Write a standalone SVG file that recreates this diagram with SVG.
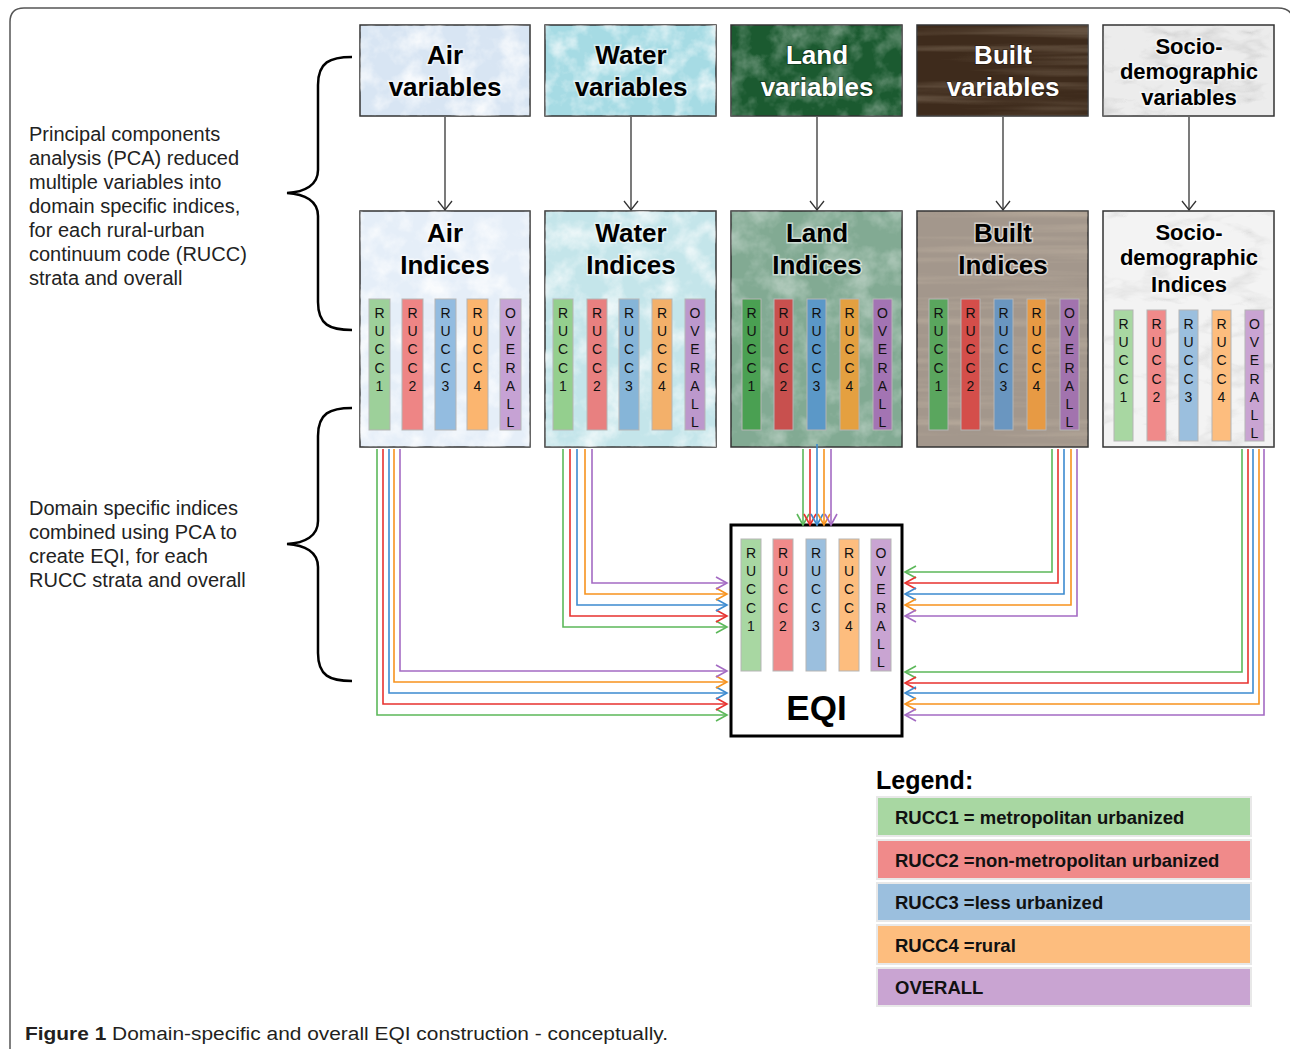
<svg xmlns="http://www.w3.org/2000/svg" width="1290" height="1049" viewBox="0 0 1290 1049">
<style>
.frame{fill:none;stroke:#555;stroke-width:1.5}
.box{stroke:#333;stroke-width:1.5}
.t{font-family:"Liberation Sans",Arial,sans-serif;font-weight:bold;font-size:26px;text-anchor:middle}
.ts{font-size:22px}
.tk{fill:#000;stroke:#fff;stroke-width:3;stroke-opacity:.55;paint-order:stroke}
.tw{fill:#fff;stroke:#000;stroke-width:2;stroke-opacity:.3;paint-order:stroke}
.bar{stroke:#b5b5b5;stroke-width:1}
.v{font-family:"Liberation Sans",Arial,sans-serif;font-size:14px;fill:#111;text-anchor:middle}
.note{font-family:"Liberation Sans",Arial,sans-serif;font-size:20px;fill:#222}
.brace{fill:none;stroke:#000;stroke-width:2.5}
.ga{fill:none;stroke:#333;stroke-width:1.3;marker-end:url(#mg)}
.c{fill:none;stroke-width:1.6}
.cg{stroke:#5cb85a;marker-end:url(#m1)}
.cr{stroke:#e8322f;marker-end:url(#m2)}
.cb{stroke:#3d8bd0;marker-end:url(#m3)}
.co{stroke:#f7931e;marker-end:url(#m4)}
.cp{stroke:#a46bc3;marker-end:url(#m5)}
.lg{stroke:#e8e8e8;stroke-width:2}
.lt{font-family:"Liberation Sans",Arial,sans-serif;font-weight:bold;font-size:18.5px;fill:#111}
</style>
<defs>
<marker id="mg" markerUnits="userSpaceOnUse" markerWidth="14" markerHeight="16" refX="9" refY="7" orient="auto" overflow="visible"><path d="M0,0 L9,7 L0,14" fill="none" stroke="#333" stroke-width="1.3"/></marker>
<marker id="m1" markerUnits="userSpaceOnUse" markerWidth="14" markerHeight="14" refX="11" refY="6" orient="auto" overflow="visible"><path d="M0,0 L11,6 L0,12" fill="none" stroke="#5cb85a" stroke-width="1.6"/></marker>
<marker id="m2" markerUnits="userSpaceOnUse" markerWidth="14" markerHeight="14" refX="11" refY="6" orient="auto" overflow="visible"><path d="M0,0 L11,6 L0,12" fill="none" stroke="#e8322f" stroke-width="1.6"/></marker>
<marker id="m3" markerUnits="userSpaceOnUse" markerWidth="14" markerHeight="14" refX="11" refY="6" orient="auto" overflow="visible"><path d="M0,0 L11,6 L0,12" fill="none" stroke="#3d8bd0" stroke-width="1.6"/></marker>
<marker id="m4" markerUnits="userSpaceOnUse" markerWidth="14" markerHeight="14" refX="11" refY="6" orient="auto" overflow="visible"><path d="M0,0 L11,6 L0,12" fill="none" stroke="#f7931e" stroke-width="1.6"/></marker>
<marker id="m5" markerUnits="userSpaceOnUse" markerWidth="14" markerHeight="14" refX="11" refY="6" orient="auto" overflow="visible"><path d="M0,0 L11,6 L0,12" fill="none" stroke="#a46bc3" stroke-width="1.6"/></marker>
<filter id="fxLight" x="0" y="0" width="1" height="1">
<feTurbulence type="fractalNoise" baseFrequency="0.04" numOctaves="4" seed="2"/>
<feColorMatrix type="matrix" values="0 0 0 0 1  0 0 0 0 1  0 0 0 0 1  2.4 0 0 0 -1"/>
<feComposite in2="SourceAlpha" operator="in"/>
</filter>
<filter id="fxWood" x="0" y="0" width="1" height="1">
<feTurbulence type="fractalNoise" baseFrequency="0.004 0.11" numOctaves="3" seed="4"/>
<feColorMatrix type="matrix" values="0 0 0 0 0.85  0 0 0 0 0.72  0 0 0 0 0.55  2.6 0 0 0 -1.15"/>
<feComposite in2="SourceAlpha" operator="in"/>
</filter>
<filter id="fxMarble" x="0" y="0" width="1" height="1">
<feTurbulence type="turbulence" baseFrequency="0.012 0.03" numOctaves="4" seed="9"/>
<feColorMatrix type="matrix" values="0 0 0 0 0.45  0 0 0 0 0.45  0 0 0 0 0.45  -3 0 0 0 0.8"/>
<feComposite in2="SourceAlpha" operator="in"/>
</filter>
</defs>

<rect width="1290" height="1049" fill="#fff"/>
<path class="frame" d="M10,1049 V22 Q10,8 24,8 H1278 Q1293,8 1293,22 V1049"/>

<g id="note-pca">
<text class="note" x="29" y="141">Principal components</text>
<text class="note" x="29" y="165">analysis (PCA) reduced</text>
<text class="note" x="29" y="189">multiple variables into</text>
<text class="note" x="29" y="213">domain specific indices,</text>
<text class="note" x="29" y="237">for each rural-urban</text>
<text class="note" x="29" y="261">continuum code (RUCC)</text>
<text class="note" x="29" y="285">strata and overall</text>
</g>
<g id="note-eqi">
<text class="note" x="29" y="515">Domain specific indices</text>
<text class="note" x="29" y="539">combined using PCA to</text>
<text class="note" x="29" y="563">create EQI, for each</text>
<text class="note" x="29" y="587">RUCC strata and overall</text>
</g>
<g id="braces">
<path class="brace" d="M352,57 C330,57 318,62 318,85 L318,170 C318,185 305,192 287,193 C305,194 318,201 318,216 L318,302 C318,325 330,330 352,330"/>
<path class="brace" d="M352,408 C330,408 318,413 318,436 L318,521 C318,536 305,543 287,544 C305,545 318,552 318,567 L318,653 C318,676 330,681 352,681"/>
</g>

<!-- variable boxes -->
<g id="air-vars">
<rect class="box" x="360" y="25" width="170" height="91" fill="#d8e5f3"/>
<rect x="360" y="25" width="170" height="91" filter="url(#fxLight)" opacity="0.8"/>
<text class="t tk" x="445" y="64">Air</text>
<text class="t tk" x="445" y="96">variables</text>
</g>
<g id="water-vars">
<rect class="box" x="545" y="25" width="171" height="91" fill="#a6dbe4"/>
<rect x="545" y="25" width="171" height="91" filter="url(#fxLight)" opacity="0.8"/>
<text class="t tk" x="631" y="64">Water</text>
<text class="t tk" x="631" y="96">variables</text>
</g>
<g id="land-vars">
<rect class="box" x="731" y="25" width="171" height="91" fill="#1b5a30"/>
<rect x="731" y="25" width="171" height="91" filter="url(#fxLight)" opacity="0.35"/>
<text class="t tw" x="817" y="64">Land</text>
<text class="t tw" x="817" y="96">variables</text>
</g>
<g id="built-vars">
<rect class="box" x="917" y="25" width="171" height="91" fill="#3e2b1c"/>
<rect x="917" y="25" width="171" height="91" filter="url(#fxWood)" opacity="0.22"/>
<text class="t tw" x="1003" y="64">Built</text>
<text class="t tw" x="1003" y="96">variables</text>
</g>
<g id="socio-vars">
<rect class="box" x="1103" y="25" width="171" height="91" fill="#ececec"/>
<rect x="1103" y="25" width="171" height="91" filter="url(#fxMarble)" opacity="0.5"/>
<text class="t ts tk" x="1189" y="54">Socio-</text>
<text class="t ts tk" x="1189" y="79">demographic</text>
<text class="t ts tk" x="1189" y="105">variables</text>
</g>

<!-- index boxes -->
<g id="air-idx">
<rect class="box" x="360" y="211" width="170" height="236" fill="#e5eef8"/>
<rect x="360" y="211" width="170" height="236" filter="url(#fxLight)" opacity="0.8"/>
<text class="t tk" x="445" y="242">Air</text>
<text class="t tk" x="445" y="274">Indices</text>
<rect class="bar" x="369" y="299" width="21" height="131" fill="#9dd09a"/>
<rect class="bar" x="402" y="299" width="21" height="131" fill="#ee8585"/>
<rect class="bar" x="435" y="299" width="21" height="131" fill="#93bce0"/>
<rect class="bar" x="467" y="299" width="21" height="131" fill="#fbb56f"/>
<rect class="bar" x="500" y="299" width="21" height="131" fill="#c6a2d4"/>
<text class="v" x="379.5" y="318"><tspan x="379.5">R</tspan><tspan x="379.5" dy="18.2">U</tspan><tspan x="379.5" dy="18.2">C</tspan><tspan x="379.5" dy="18.2">C</tspan><tspan x="379.5" dy="18.2">1</tspan></text>
<text class="v" x="412.5" y="318"><tspan x="412.5">R</tspan><tspan x="412.5" dy="18.2">U</tspan><tspan x="412.5" dy="18.2">C</tspan><tspan x="412.5" dy="18.2">C</tspan><tspan x="412.5" dy="18.2">2</tspan></text>
<text class="v" x="445.5" y="318"><tspan x="445.5">R</tspan><tspan x="445.5" dy="18.2">U</tspan><tspan x="445.5" dy="18.2">C</tspan><tspan x="445.5" dy="18.2">C</tspan><tspan x="445.5" dy="18.2">3</tspan></text>
<text class="v" x="477.5" y="318"><tspan x="477.5">R</tspan><tspan x="477.5" dy="18.2">U</tspan><tspan x="477.5" dy="18.2">C</tspan><tspan x="477.5" dy="18.2">C</tspan><tspan x="477.5" dy="18.2">4</tspan></text>
<text class="v" x="510.5" y="318"><tspan x="510.5">O</tspan><tspan x="510.5" dy="18.2">V</tspan><tspan x="510.5" dy="18.2">E</tspan><tspan x="510.5" dy="18.2">R</tspan><tspan x="510.5" dy="18.2">A</tspan><tspan x="510.5" dy="18.2">L</tspan><tspan x="510.5" dy="18.2">L</tspan></text>
</g>
<g id="water-idx">
<rect class="box" x="545" y="211" width="171" height="236" fill="#c4e5ea"/>
<rect x="545" y="211" width="171" height="236" filter="url(#fxLight)" opacity="0.7"/>
<text class="t tk" x="631" y="242">Water</text>
<text class="t tk" x="631" y="274">Indices</text>
<rect class="bar" x="553" y="299" width="20" height="131" fill="#94cf8e"/>
<rect class="bar" x="587" y="299" width="20" height="131" fill="#e88080"/>
<rect class="bar" x="619" y="299" width="20" height="131" fill="#86b5d8"/>
<rect class="bar" x="652" y="299" width="20" height="131" fill="#f3b06a"/>
<rect class="bar" x="685" y="299" width="20" height="131" fill="#bc98cc"/>
<text class="v" x="563" y="318"><tspan x="563">R</tspan><tspan x="563" dy="18.2">U</tspan><tspan x="563" dy="18.2">C</tspan><tspan x="563" dy="18.2">C</tspan><tspan x="563" dy="18.2">1</tspan></text>
<text class="v" x="597" y="318"><tspan x="597">R</tspan><tspan x="597" dy="18.2">U</tspan><tspan x="597" dy="18.2">C</tspan><tspan x="597" dy="18.2">C</tspan><tspan x="597" dy="18.2">2</tspan></text>
<text class="v" x="629" y="318"><tspan x="629">R</tspan><tspan x="629" dy="18.2">U</tspan><tspan x="629" dy="18.2">C</tspan><tspan x="629" dy="18.2">C</tspan><tspan x="629" dy="18.2">3</tspan></text>
<text class="v" x="662" y="318"><tspan x="662">R</tspan><tspan x="662" dy="18.2">U</tspan><tspan x="662" dy="18.2">C</tspan><tspan x="662" dy="18.2">C</tspan><tspan x="662" dy="18.2">4</tspan></text>
<text class="v" x="695" y="318"><tspan x="695">O</tspan><tspan x="695" dy="18.2">V</tspan><tspan x="695" dy="18.2">E</tspan><tspan x="695" dy="18.2">R</tspan><tspan x="695" dy="18.2">A</tspan><tspan x="695" dy="18.2">L</tspan><tspan x="695" dy="18.2">L</tspan></text>
</g>
<g id="land-idx">
<rect class="box" x="731" y="211" width="171" height="236" fill="#82aa93"/>
<rect x="731" y="211" width="171" height="236" filter="url(#fxLight)" opacity="0.35"/>
<text class="t tk" x="817" y="242">Land</text>
<text class="t tk" x="817" y="274">Indices</text>
<rect class="bar" x="742" y="299" width="19" height="131" fill="#4aa052"/>
<rect class="bar" x="774" y="299" width="19" height="131" fill="#c8504e"/>
<rect class="bar" x="807" y="299" width="19" height="131" fill="#5b98c8"/>
<rect class="bar" x="840" y="299" width="19" height="131" fill="#e4a040"/>
<rect class="bar" x="873" y="299" width="19" height="131" fill="#a374b3"/>
<text class="v" x="751.5" y="318"><tspan x="751.5">R</tspan><tspan x="751.5" dy="18.2">U</tspan><tspan x="751.5" dy="18.2">C</tspan><tspan x="751.5" dy="18.2">C</tspan><tspan x="751.5" dy="18.2">1</tspan></text>
<text class="v" x="783.5" y="318"><tspan x="783.5">R</tspan><tspan x="783.5" dy="18.2">U</tspan><tspan x="783.5" dy="18.2">C</tspan><tspan x="783.5" dy="18.2">C</tspan><tspan x="783.5" dy="18.2">2</tspan></text>
<text class="v" x="816.5" y="318"><tspan x="816.5">R</tspan><tspan x="816.5" dy="18.2">U</tspan><tspan x="816.5" dy="18.2">C</tspan><tspan x="816.5" dy="18.2">C</tspan><tspan x="816.5" dy="18.2">3</tspan></text>
<text class="v" x="849.5" y="318"><tspan x="849.5">R</tspan><tspan x="849.5" dy="18.2">U</tspan><tspan x="849.5" dy="18.2">C</tspan><tspan x="849.5" dy="18.2">C</tspan><tspan x="849.5" dy="18.2">4</tspan></text>
<text class="v" x="882.5" y="318"><tspan x="882.5">O</tspan><tspan x="882.5" dy="18.2">V</tspan><tspan x="882.5" dy="18.2">E</tspan><tspan x="882.5" dy="18.2">R</tspan><tspan x="882.5" dy="18.2">A</tspan><tspan x="882.5" dy="18.2">L</tspan><tspan x="882.5" dy="18.2">L</tspan></text>
</g>
<g id="built-idx">
<rect class="box" x="917" y="211" width="171" height="236" fill="#a3978c"/>
<rect x="917" y="211" width="171" height="236" filter="url(#fxWood)" opacity="0.22"/>
<text class="t tk" x="1003" y="242">Built</text>
<text class="t tk" x="1003" y="274">Indices</text>
<rect class="bar" x="929" y="299" width="19" height="131" fill="#5aa65e"/>
<rect class="bar" x="961" y="299" width="19" height="131" fill="#d44e4a"/>
<rect class="bar" x="994" y="299" width="19" height="131" fill="#6a96c0"/>
<rect class="bar" x="1027" y="299" width="19" height="131" fill="#e79a44"/>
<rect class="bar" x="1060" y="299" width="19" height="131" fill="#a273ae"/>
<text class="v" x="938.5" y="318"><tspan x="938.5">R</tspan><tspan x="938.5" dy="18.2">U</tspan><tspan x="938.5" dy="18.2">C</tspan><tspan x="938.5" dy="18.2">C</tspan><tspan x="938.5" dy="18.2">1</tspan></text>
<text class="v" x="970.5" y="318"><tspan x="970.5">R</tspan><tspan x="970.5" dy="18.2">U</tspan><tspan x="970.5" dy="18.2">C</tspan><tspan x="970.5" dy="18.2">C</tspan><tspan x="970.5" dy="18.2">2</tspan></text>
<text class="v" x="1003.5" y="318"><tspan x="1003.5">R</tspan><tspan x="1003.5" dy="18.2">U</tspan><tspan x="1003.5" dy="18.2">C</tspan><tspan x="1003.5" dy="18.2">C</tspan><tspan x="1003.5" dy="18.2">3</tspan></text>
<text class="v" x="1036.5" y="318"><tspan x="1036.5">R</tspan><tspan x="1036.5" dy="18.2">U</tspan><tspan x="1036.5" dy="18.2">C</tspan><tspan x="1036.5" dy="18.2">C</tspan><tspan x="1036.5" dy="18.2">4</tspan></text>
<text class="v" x="1069.5" y="318"><tspan x="1069.5">O</tspan><tspan x="1069.5" dy="18.2">V</tspan><tspan x="1069.5" dy="18.2">E</tspan><tspan x="1069.5" dy="18.2">R</tspan><tspan x="1069.5" dy="18.2">A</tspan><tspan x="1069.5" dy="18.2">L</tspan><tspan x="1069.5" dy="18.2">L</tspan></text>
</g>
<g id="socio-idx">
<rect class="box" x="1103" y="211" width="171" height="236" fill="#f3f3f3"/>
<rect x="1103" y="211" width="171" height="236" filter="url(#fxMarble)" opacity="0.35"/>
<text class="t ts tk" x="1189" y="240">Socio-</text>
<text class="t ts tk" x="1189" y="265">demographic</text>
<text class="t ts tk" x="1189" y="292">Indices</text>
<rect class="bar" x="1114" y="310" width="19" height="131" fill="#a8d7a2"/>
<rect class="bar" x="1147" y="310" width="19" height="131" fill="#f08a8a"/>
<rect class="bar" x="1179" y="310" width="19" height="131" fill="#9bbfde"/>
<rect class="bar" x="1212" y="310" width="19" height="131" fill="#fdbd7e"/>
<rect class="bar" x="1245" y="310" width="19" height="131" fill="#c9a4d2"/>
<text class="v" x="1123.5" y="329"><tspan x="1123.5">R</tspan><tspan x="1123.5" dy="18.2">U</tspan><tspan x="1123.5" dy="18.2">C</tspan><tspan x="1123.5" dy="18.2">C</tspan><tspan x="1123.5" dy="18.2">1</tspan></text>
<text class="v" x="1156.5" y="329"><tspan x="1156.5">R</tspan><tspan x="1156.5" dy="18.2">U</tspan><tspan x="1156.5" dy="18.2">C</tspan><tspan x="1156.5" dy="18.2">C</tspan><tspan x="1156.5" dy="18.2">2</tspan></text>
<text class="v" x="1188.5" y="329"><tspan x="1188.5">R</tspan><tspan x="1188.5" dy="18.2">U</tspan><tspan x="1188.5" dy="18.2">C</tspan><tspan x="1188.5" dy="18.2">C</tspan><tspan x="1188.5" dy="18.2">3</tspan></text>
<text class="v" x="1221.5" y="329"><tspan x="1221.5">R</tspan><tspan x="1221.5" dy="18.2">U</tspan><tspan x="1221.5" dy="18.2">C</tspan><tspan x="1221.5" dy="18.2">C</tspan><tspan x="1221.5" dy="18.2">4</tspan></text>
<text class="v" x="1254.5" y="329"><tspan x="1254.5">O</tspan><tspan x="1254.5" dy="18.2">V</tspan><tspan x="1254.5" dy="18.2">E</tspan><tspan x="1254.5" dy="18.2">R</tspan><tspan x="1254.5" dy="18.2">A</tspan><tspan x="1254.5" dy="18.2">L</tspan><tspan x="1254.5" dy="18.2">L</tspan></text>
</g>

<g id="eqi">
<rect x="731" y="525" width="171" height="211" fill="#fff" stroke="#000" stroke-width="3"/>
<rect class="bar" x="741" y="539" width="20" height="132" fill="#a8d7a2"/>
<rect class="bar" x="773" y="539" width="20" height="132" fill="#f08a8a"/>
<rect class="bar" x="806" y="539" width="20" height="132" fill="#9bbfde"/>
<rect class="bar" x="839" y="539" width="20" height="132" fill="#fdbd7e"/>
<rect class="bar" x="871" y="539" width="20" height="132" fill="#c9a4d2"/>
<text class="v" x="751" y="558"><tspan x="751">R</tspan><tspan x="751" dy="18.2">U</tspan><tspan x="751" dy="18.2">C</tspan><tspan x="751" dy="18.2">C</tspan><tspan x="751" dy="18.2">1</tspan></text>
<text class="v" x="783" y="558"><tspan x="783">R</tspan><tspan x="783" dy="18.2">U</tspan><tspan x="783" dy="18.2">C</tspan><tspan x="783" dy="18.2">C</tspan><tspan x="783" dy="18.2">2</tspan></text>
<text class="v" x="816" y="558"><tspan x="816">R</tspan><tspan x="816" dy="18.2">U</tspan><tspan x="816" dy="18.2">C</tspan><tspan x="816" dy="18.2">C</tspan><tspan x="816" dy="18.2">3</tspan></text>
<text class="v" x="849" y="558"><tspan x="849">R</tspan><tspan x="849" dy="18.2">U</tspan><tspan x="849" dy="18.2">C</tspan><tspan x="849" dy="18.2">C</tspan><tspan x="849" dy="18.2">4</tspan></text>
<text class="v" x="881" y="558"><tspan x="881">O</tspan><tspan x="881" dy="18.2">V</tspan><tspan x="881" dy="18.2">E</tspan><tspan x="881" dy="18.2">R</tspan><tspan x="881" dy="18.2">A</tspan><tspan x="881" dy="18.2">L</tspan><tspan x="881" dy="18.2">L</tspan></text>
<text class="t" x="816.5" y="720" style="font-size:35px" fill="#000">EQI</text>
</g>

<g id="connectors">
<path class="ga" d="M445,117 V210"/>
<path class="ga" d="M631,117 V210"/>
<path class="ga" d="M817,117 V210"/>
<path class="ga" d="M1003,117 V210"/>
<path class="ga" d="M1189,117 V210"/>
<!-- air -->
<path class="c cg" d="M377,449 V715 H727"/>
<path class="c cr" d="M383,449 V704 H727"/>
<path class="c cb" d="M389,449 V693 H727"/>
<path class="c co" d="M394,449 V682 H727"/>
<path class="c cp" d="M400,449 V671 H727"/>
<!-- water -->
<path class="c cg" d="M563,449 V627 H727"/>
<path class="c cr" d="M570,449 V616 H727"/>
<path class="c cb" d="M577,449 V605 H727"/>
<path class="c co" d="M585,449 V594 H727"/>
<path class="c cp" d="M592,449 V583 H727"/>
<!-- land -->
<path class="c cg" d="M803,449 V525"/>
<path class="c cr" d="M810,449 V525"/>
<path class="c cb" d="M817,444 V525"/>
<path class="c co" d="M824,449 V525"/>
<path class="c cp" d="M831,449 V525"/>
<!-- built -->
<path class="c cg" d="M1052,449 V572 H905"/>
<path class="c cr" d="M1058,449 V583 H905"/>
<path class="c cb" d="M1064,449 V594 H905"/>
<path class="c co" d="M1071,449 V605 H905"/>
<path class="c cp" d="M1077,449 V616 H905"/>
<!-- socio -->
<path class="c cg" d="M1242,449 V672 H905"/>
<path class="c cr" d="M1248,449 V683 H905"/>
<path class="c cb" d="M1253,449 V693 H905"/>
<path class="c co" d="M1259,449 V704 H905"/>
<path class="c cp" d="M1264,449 V715 H905"/>
</g>

<g id="legend">
<text x="876" y="789" style="font-family:'Liberation Sans',Arial,sans-serif;font-weight:bold;font-size:25px" fill="#000">Legend:</text>
<rect class="lg" x="877" y="797" width="374" height="39" fill="#a8d7a2"/>
<rect class="lg" x="877" y="840" width="374" height="39" fill="#f08a8a"/>
<rect class="lg" x="877" y="883" width="374" height="38" fill="#9bbfde"/>
<rect class="lg" x="877" y="925" width="374" height="39" fill="#fdbd7e"/>
<rect class="lg" x="877" y="968" width="374" height="38" fill="#c9a4d2"/>
<text class="lt" x="895" y="824">RUCC1 = metropolitan urbanized</text>
<text class="lt" x="895" y="867">RUCC2 =non-metropolitan urbanized</text>
<text class="lt" x="895" y="909">RUCC3 =less urbanized</text>
<text class="lt" x="895" y="952">RUCC4 =rural</text>
<text class="lt" x="895" y="994">OVERALL</text>
</g>

<g id="caption">
<text x="25" y="1040" textLength="643" lengthAdjust="spacingAndGlyphs" style="font-family:'Liberation Sans',Arial,sans-serif;font-size:18px" fill="#231f20"><tspan font-weight="bold">Figure 1</tspan> Domain-specific and overall EQI construction - conceptually.</text>
</g>
</svg>
